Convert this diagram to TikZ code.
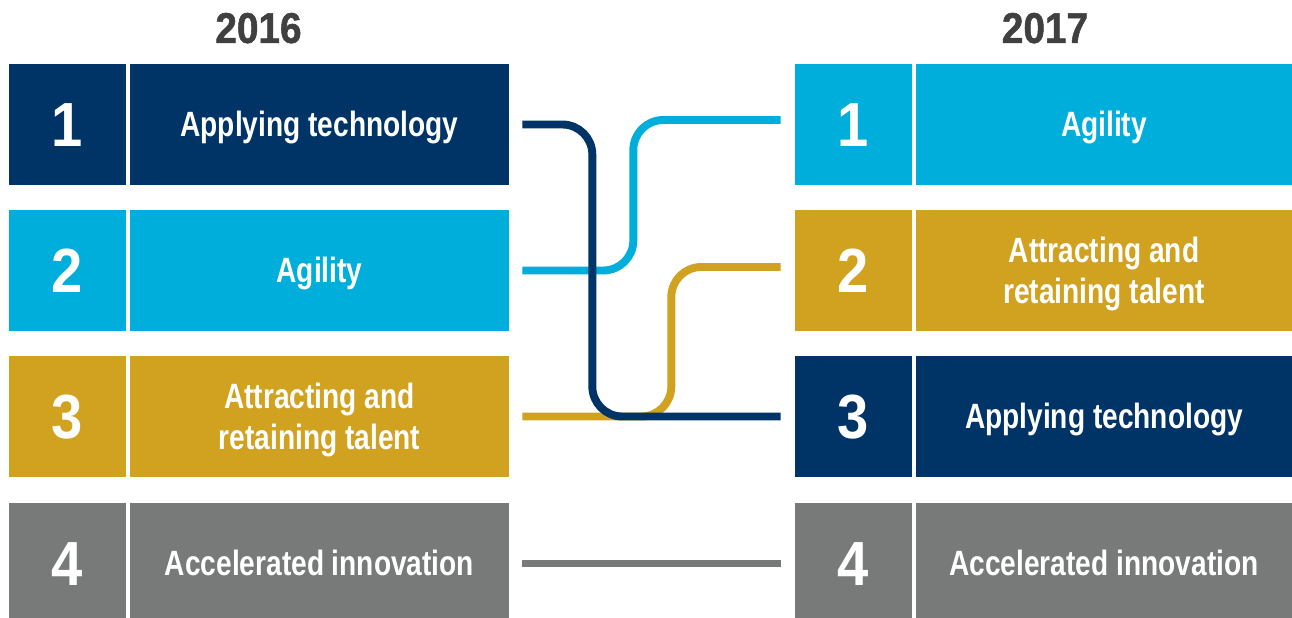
\documentclass[tikz,border=0pt]{standalone}
\usepackage{fontspec}
\usepackage{tikz}
\newfontfamily\condfont{Liberation Sans}[FakeStretch=0.8]
\newfontfamily\headfont{Liberation Sans}[FakeStretch=0.9]
\newfontfamily\yearfont{Liberation Sans}[FakeStretch=0.9, BoldFeatures={FakeBold=1.2}]
\definecolor{navy}{RGB}{0,51,102}
\definecolor{sky}{RGB}{0,174,219}
\definecolor{ochre}{RGB}{208,162,32}
\definecolor{slate}{RGB}{119,122,121}
\definecolor{headgray}{RGB}{64,64,64}

\begin{document}
\begin{tikzpicture}[x=0.02cm, y=-0.02cm,
		year/.style={text=headgray, inner sep=0, text height=17.6pt, text depth=0pt,
			font=\yearfont\bfseries\fontsize{24.5}{28}\selectfont},
		numbox/.style={fill=#1, text=white, inner sep=0, minimum width=2.34cm,
			minimum height=2.42cm, text height=25.6pt, text depth=0pt,
			font=\headfont\bfseries\fontsize{35.5}{40}\selectfont},
		labbox/.style={fill=#1, text=white, inner sep=0, minimum height=2.42cm,
			align=center, text height=14.2pt, text depth=0pt,
			font=\condfont\bfseries\fontsize{20}{23.3}\selectfont},
		twoline/.style={text height=37.5pt},
		link/.style={line width=4.5pt, rounded corners=0.6cm}]
		\useasboundingbox (0,0) rectangle (1292,618);
		\node[year] (y16) at (258.5,27.5) {2016};
		\node[year] (y17) at (1045,27.5) {2017};
		\node[numbox=navy] (n1) at (67.5,124.5) {1};
		\node[labbox=navy, minimum width=7.58cm] (l1) at (319.5,124.5) {Applying technology};
		\node[numbox=sky] (n2) at (67.5,270.5) {2};
		\node[labbox=sky, minimum width=7.58cm] (l2) at (319.5,270.5) {Agility};
		\node[numbox=ochre] (n3) at (67.5,416.5) {3};
		\node[labbox=ochre, twoline, minimum width=7.58cm] (l3) at (319.5,416.5) {Attracting and\\retaining talent};
		\node[numbox=slate] (n4) at (67.5,563.5) {4};
		\node[labbox=slate, minimum width=7.58cm] (l4) at (319.5,563.5) {Accelerated innovation};
		\node[numbox=sky] (m1) at (853.5,124.5) {1};
		\node[labbox=sky, minimum width=7.52cm] (r1) at (1104,124.5) {Agility};
		\node[numbox=ochre] (m2) at (853.5,270.5) {2};
		\node[labbox=ochre, twoline, minimum width=7.52cm] (r2) at (1104,270.5) {Attracting and\\retaining talent};
		\node[numbox=navy] (m3) at (853.5,416.5) {3};
		\node[labbox=navy, minimum width=7.52cm] (r3) at (1104,416.5) {Applying technology};
		\node[numbox=slate] (m4) at (853.5,563.5) {4};
		\node[labbox=slate, minimum width=7.52cm] (r4) at (1104,563.5) {Accelerated innovation};
		\coordinate (f1) at ([xshift=0.26cm]l1.east);
		\coordinate (f2) at ([xshift=0.26cm]l2.east);
		\coordinate (f3) at ([xshift=0.26cm]l3.east);
		\coordinate (f4) at ([xshift=0.26cm]l4.east);
		\coordinate (t1) at ([xshift=-0.28cm, yshift=0.09cm]m1.west);
		\coordinate (t2) at ([xshift=-0.28cm, yshift=0.07cm]m2.west);
		\coordinate (t3) at ([xshift=-0.28cm]m3.west);
		\coordinate (t4) at ([xshift=-0.28cm]m4.west);
		\draw[link, slate] (f4) -- (t4);
		\draw[link, ochre] (f3) -- ++(149,0) |- (t2);
		\draw[link, sky] (f2) -- ++(111,0) |- (t1);
		\draw[link, navy] (f1) -- ++(70,0) |- (t3);
\end{tikzpicture}
\end{document}
